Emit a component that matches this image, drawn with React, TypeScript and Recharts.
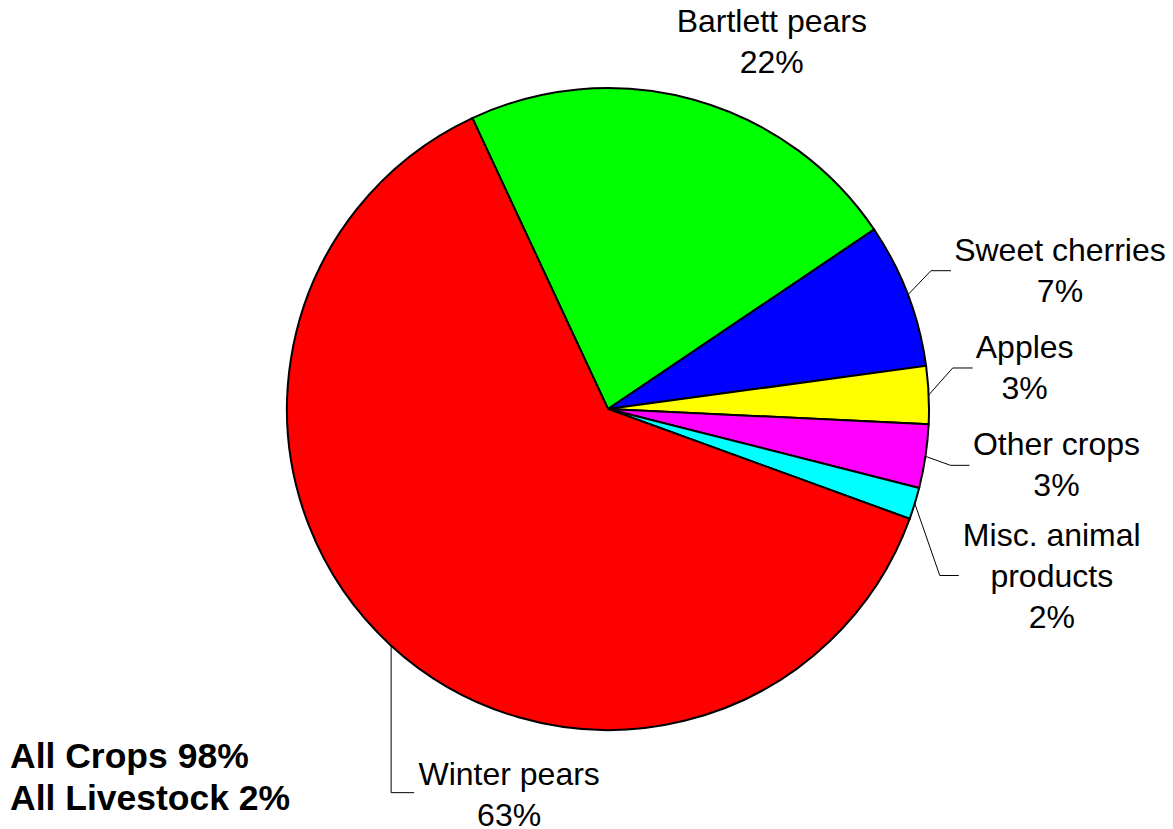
import { PieChart, Pie, Cell } from 'recharts'

// slices in drawing order, clockwise from the top-left edge of Bartlett pears
const sliceNames = ['Bartlett pears', 'Sweet cherries', 'Apples', 'Other crops', 'Misc. animal products', 'Winter pears']
const sliceValues = [22.5, 7.3, 2.9, 3.2, 1.6, 62.5]
const sliceLabels = ['22%', '7%', '3%', '3%', '2%', '63%']
const labelLines = [['Bartlett pears'], ['Sweet cherries'], ['Apples'], ['Other crops'], ['Misc. animal', 'products'], ['Winter pears']]
const sliceColors = ['#00ff00', '#0000ff', '#ffff00', '#ff00ff', '#00ffff', '#ff0000']
const summaryLines = ['All Crops 98%', 'All Livestock 2%']

const WIDTH = 1173
const HEIGHT = 829
const FONT = '"Liberation Sans", Arial, Helvetica, sans-serif'
const LINE_H = 41

// label placement, offsets from the point where the slice's mid-angle meets the rim
const LABEL_LAYOUT: Record<string, { elbow?: [number, number]; end?: [number, number]; text: [number, number] }> = {
  'Bartlett pears': { text: [78, -68] },
  'Sweet cherries': { elbow: [23, -24], end: [43, -24], text: [152, -34] },
  Apples: { elbow: [24, -27], end: [44, -27], text: [96, -37] },
  'Other crops': { elbow: [25, 9], end: [44, 9], text: [131, -1] },
  'Misc. animal products': { elbow: [25, 72], end: [44, 72], text: [137, 43] },
  'Winter pears': { elbow: [0, 147], end: [23, 147], text: [118, 139] },
}

const data = sliceNames.map((name, i) => ({ name, value: sliceValues[i] }))

const RADIAN = Math.PI / 180

const renderLabel = (props: any) => {
  const { cx, cy, midAngle, outerRadius, index } = props
  const name = sliceNames[index]
  const layout = LABEL_LAYOUT[name]
  const ex = cx + outerRadius * Math.cos(-midAngle * RADIAN)
  const ey = cy + outerRadius * Math.sin(-midAngle * RADIAN)
  const lines = [...labelLines[index], sliceLabels[index]]
  const tx = ex + layout.text[0]
  const ty = ey + layout.text[1]

  return (
    <g key={`label-${index}`}>
      {layout.elbow && layout.end && (
        <polyline
          points={`${ex},${ey} ${ex + layout.elbow[0]},${ey + layout.elbow[1]} ${ex + layout.end[0]},${ey + layout.end[1]}`}
          fill="none"
          stroke="#000"
          strokeWidth={1}
        />
      )}
      <text x={tx} y={ty} textAnchor="middle" fontFamily={FONT} fontSize={32} fill="#000">
        {lines.map((line, i) => (
          <tspan key={i} x={tx} y={ty + i * LINE_H}>
            {line}
          </tspan>
        ))}
      </text>
    </g>
  )
}

export default function App() {
  return (
    <div style={{ position: 'absolute', left: 0, top: 0, width: WIDTH, height: HEIGHT, background: '#fff' }}>
      <PieChart width={WIDTH} height={HEIGHT} margin={{ top: 0, right: 0, bottom: 0, left: 0 }}>
        <Pie
          data={data}
          dataKey="value"
          nameKey="name"
          cx={608}
          cy={409}
          outerRadius={321}
          startAngle={115}
          endAngle={-245}
          stroke="#000"
          strokeWidth={2}
          label={renderLabel}
          labelLine={false}
          isAnimationActive={false}
        >
          {data.map((entry, index) => (
            <Cell key={`cell-${index}`} fill={sliceColors[index]} />
          ))}
        </Pie>
      </PieChart>

      {/* totals, bottom left */}
      <svg width={320} height={100} style={{ position: 'absolute', left: 0, top: 729, pointerEvents: 'none' }}>
        {summaryLines.map((line, i) => (
          <text key={i} x={10} y={39 + i * 42} fontFamily={FONT} fontSize={35.5} fontWeight="bold" fill="#000">
            {line}
          </text>
        ))}
      </svg>
    </div>
  )
}
